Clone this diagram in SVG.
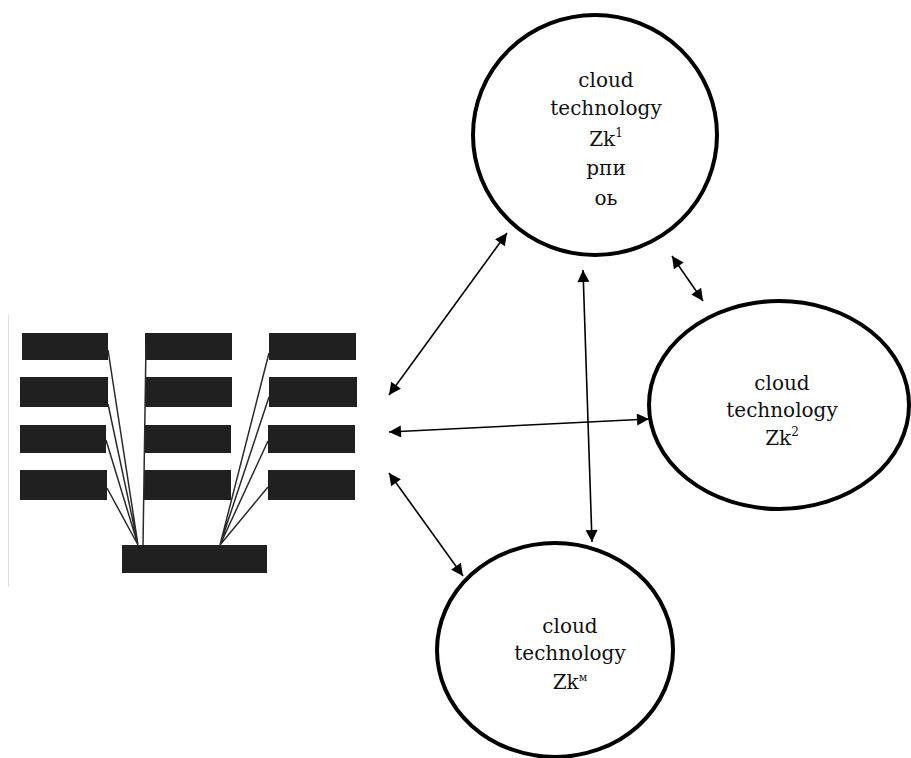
<svg xmlns="http://www.w3.org/2000/svg" width="911" height="758" viewBox="0 0 911 758">
<defs>
<style>
.bar{fill:#202020}
.wire{stroke:#2a2a2a;stroke-width:1.5;fill:none}
.ell{fill:#fff;stroke:#000;stroke-width:4}
.lbl{font-family:"DejaVu Serif","Liberation Serif",serif;font-size:20px;fill:#111;text-anchor:middle}
.conn{stroke:#000;stroke-width:1.6;fill:none;marker-start:url(#ah);marker-end:url(#ah)}
</style>
<marker id="ah" viewBox="0 0 10 10" refX="10" refY="5" markerWidth="15" markerHeight="12" markerUnits="userSpaceOnUse" orient="auto-start-reverse">
<path d="M0,0 L10,5 L0,10 z" fill="#000"/>
</marker>
</defs>
<rect width="911" height="758" fill="#fff"/>

<g id="schematic">
<line x1="8.5" y1="315" x2="8.5" y2="587" stroke="#e0e0e0" stroke-width="1"/>
<rect class="bar" x="22" y="333" width="86" height="27"/>
<rect class="bar" x="20" y="377" width="88" height="30"/>
<rect class="bar" x="20" y="425" width="86" height="28"/>
<rect class="bar" x="20" y="470" width="87" height="30"/>
<rect class="bar" x="145" y="333" width="87" height="27"/>
<rect class="bar" x="145" y="377" width="87" height="30"/>
<rect class="bar" x="145" y="425" width="86" height="28"/>
<rect class="bar" x="144" y="470" width="87" height="30"/>
<rect class="bar" x="269" y="333" width="87" height="27"/>
<rect class="bar" x="269" y="377" width="88" height="30"/>
<rect class="bar" x="268" y="425" width="87" height="28"/>
<rect class="bar" x="268" y="470" width="87" height="30"/>
<rect class="bar" x="122" y="545" width="145" height="28"/>
<path class="wire" d="M108,350 L138,545 M108,404 L138,545 M106,440 L138,545 M107,488 L138,545 M146,345 L143,545 M269,353 L220,545 M269,397 L220,545 M268,441 L220,545 M268,487 L220,545"/>
</g>

<g id="connectors">
<line class="conn" x1="389" y1="395" x2="507" y2="233"/>
<line class="conn" x1="389" y1="432" x2="649" y2="419"/>
<line class="conn" x1="583" y1="270" x2="592" y2="542"/>
<line class="conn" x1="389" y1="473" x2="463" y2="576"/>
<line class="conn" x1="672" y1="256" x2="703" y2="301"/>
</g>

<g id="zk1">
<ellipse class="ell" cx="595" cy="135" rx="122" ry="120"/>
<text class="lbl" x="606" y="87">cloud</text>
<text class="lbl" x="606" y="115">technology</text>
<text class="lbl" x="606" y="146">Zk<tspan font-size="12" dy="-9">1</tspan></text>
<text class="lbl" x="606" y="175">рпи</text>
<text class="lbl" x="606" y="205" font-size="23">оь</text>
</g>

<g id="zk2">
<ellipse class="ell" cx="779" cy="405" rx="130" ry="104"/>
<text class="lbl" x="782" y="390">cloud</text>
<text class="lbl" x="782" y="417">technology</text>
<text class="lbl" x="782" y="445">Zk<tspan font-size="12" dy="-9">2</tspan></text>
</g>

<g id="zkm">
<ellipse class="ell" cx="555" cy="650" rx="118" ry="107"/>
<text class="lbl" x="570" y="633">cloud</text>
<text class="lbl" x="570" y="660">technology</text>
<text class="lbl" x="570" y="689">Zk<tspan font-size="11" dy="-8">м</tspan></text>
</g>
</svg>
